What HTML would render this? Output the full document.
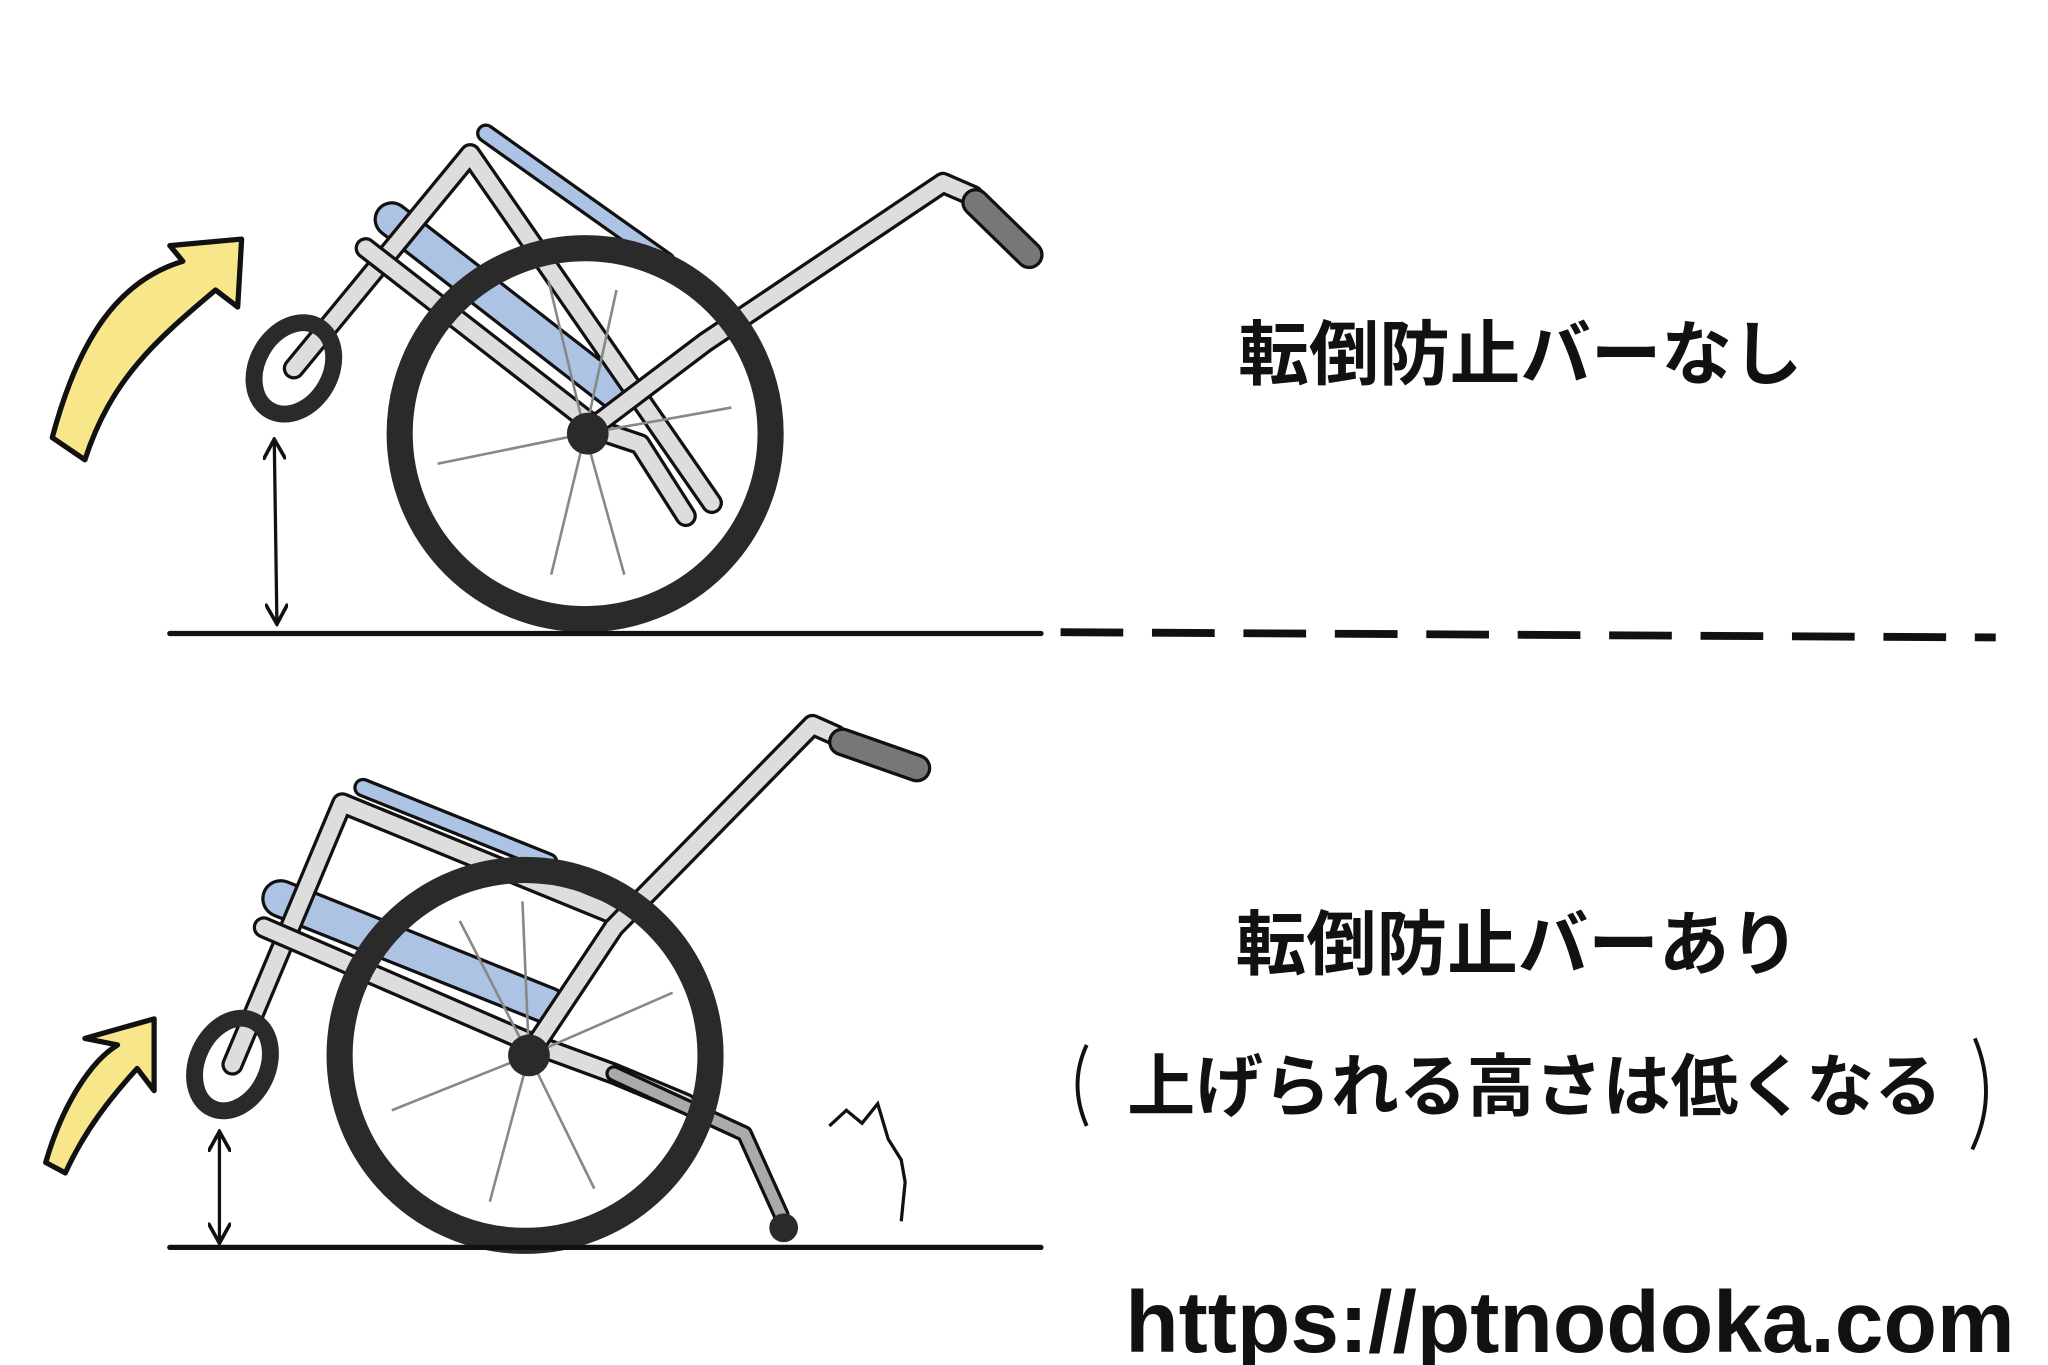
<!DOCTYPE html>
<html><head><meta charset="utf-8"><style>
html,body{margin:0;padding:0;background:#fff;}
svg{display:block}
text{font-family:"Liberation Sans","Noto Sans CJK JP",sans-serif;font-weight:bold;fill:#111}
</style></head><body>
<svg width="2048" height="1365" viewBox="0 0 1568 1045" xmlns="http://www.w3.org/2000/svg">
<defs>
<marker id="ah" viewBox="0 0 10 10" refX="8" refY="5" markerWidth="7" markerHeight="7" orient="auto-start-reverse"><path d="M0,0 L9,5 L0,10" fill="none" stroke="#111" stroke-width="1.6"/></marker>
</defs>
<!-- ===== TOP ===== -->
<line x1="372" y1="102" x2="510" y2="200" stroke="#111" stroke-width="15" stroke-linecap="round"/>
<line x1="372" y1="102" x2="510" y2="200" stroke="#adc3e3" stroke-width="10" stroke-linecap="round"/>
<line x1="300" y1="168" x2="470" y2="300" stroke="#111" stroke-width="28" stroke-linecap="round"/>
<line x1="300" y1="168" x2="470" y2="300" stroke="#adc3e3" stroke-width="23" stroke-linecap="round"/>
<g stroke-linecap="round" stroke-linejoin="round" fill="none">
<polyline points="225,282 360,118 545,385" stroke="#111" stroke-width="17"/>
<polyline points="225,282 360,118 545,385" stroke="#ddd" stroke-width="12"/>
<polyline points="280,190 460,330 490,340 525,395" stroke="#111" stroke-width="17"/>
<polyline points="280,190 460,330 490,340 525,395" stroke="#ddd" stroke-width="12"/>
<polyline points="450,330 540,262 722,140 745,150" stroke="#111" stroke-width="17"/>
<polyline points="450,330 540,262 722,140 745,150" stroke="#ddd" stroke-width="12"/>
<line x1="747" y1="155" x2="788" y2="195" stroke="#111" stroke-width="22"/>
<line x1="747" y1="155" x2="788" y2="195" stroke="#777" stroke-width="17"/>
</g>
<ellipse cx="225" cy="282" rx="28" ry="37" transform="rotate(30 225 282)" fill="none" stroke="#2a2a2a" stroke-width="13"/>
<circle cx="448" cy="332" r="142" fill="none" stroke="#2a2a2a" stroke-width="20"/>
<g stroke="#888" stroke-width="2">
<line x1="448" y1="332" x2="420" y2="215"/><line x1="448" y1="332" x2="472" y2="222"/>
<line x1="448" y1="332" x2="560" y2="312"/><line x1="448" y1="332" x2="335" y2="355"/>
<line x1="448" y1="332" x2="422" y2="440"/><line x1="448" y1="332" x2="478" y2="440"/>
</g>
<circle cx="450" cy="332" r="16" fill="#2a2a2a"/>
<path d="M40,335 C60,260 90,215 140,200 L130,188 L185,183 L182,235 L165,222 C120,260 85,290 65,352 Z" fill="#f7e68a" stroke="#111" stroke-width="4" stroke-linejoin="round"/>
<line x1="210" y1="338" x2="212" y2="476" stroke="#111" stroke-width="2.5" marker-start="url(#ah)" marker-end="url(#ah)"/>
<line x1="130" y1="485" x2="797" y2="485" stroke="#111" stroke-width="4" stroke-linecap="round"/>
<line x1="812" y1="484" x2="1528" y2="488" stroke="#111" stroke-width="6" stroke-dasharray="48,22"/>
<text x="1164" y="290" font-size="54" text-anchor="middle">転倒防止バーなし</text>

<!-- ===== BOTTOM ===== -->
<line x1="278" y1="603" x2="420" y2="660" stroke="#111" stroke-width="15" stroke-linecap="round"/>
<line x1="278" y1="603" x2="420" y2="660" stroke="#adc3e3" stroke-width="10" stroke-linecap="round"/>
<line x1="215" y1="688" x2="420" y2="770" stroke="#111" stroke-width="30" stroke-linecap="round"/>
<line x1="215" y1="688" x2="420" y2="770" stroke="#adc3e3" stroke-width="25" stroke-linecap="round"/>
<g stroke-linecap="round" stroke-linejoin="round" fill="none">
<polyline points="178,815 262,615 470,700" stroke="#111" stroke-width="17"/>
<polyline points="178,815 262,615 470,700" stroke="#ddd" stroke-width="12"/>
<polyline points="202,710 410,800 470,822 525,845" stroke="#111" stroke-width="17"/>
<polyline points="202,710 410,800 470,822 525,845" stroke="#ddd" stroke-width="12"/>
<polyline points="410,800 470,710 622,555 640,563" stroke="#111" stroke-width="17"/>
<polyline points="410,800 470,710 622,555 640,563" stroke="#ddd" stroke-width="12"/>
<polyline points="470,822 570,868 598,930" stroke="#111" stroke-width="13"/>
<polyline points="470,822 570,868 598,930" stroke="#aaa" stroke-width="8"/>
<line x1="645" y1="568" x2="702" y2="588" stroke="#111" stroke-width="22"/>
<line x1="645" y1="568" x2="702" y2="588" stroke="#777" stroke-width="17"/>
</g>
<circle cx="600" cy="940" r="11" fill="#2a2a2a"/>
<ellipse cx="178" cy="815" rx="27" ry="37" transform="rotate(25 178 815)" fill="none" stroke="#2a2a2a" stroke-width="13"/>
<circle cx="402" cy="808" r="142" fill="none" stroke="#2a2a2a" stroke-width="20"/>
<g stroke="#888" stroke-width="2">
<line x1="405" y1="808" x2="352" y2="705"/><line x1="405" y1="808" x2="400" y2="690"/>
<line x1="405" y1="808" x2="515" y2="760"/><line x1="405" y1="808" x2="300" y2="850"/>
<line x1="405" y1="808" x2="375" y2="920"/><line x1="405" y1="808" x2="455" y2="910"/>
</g>
<circle cx="405" cy="808" r="16" fill="#2a2a2a"/>
<path d="M35,890 C48,845 70,812 90,800 L65,795 L118,780 L118,835 L105,818 C85,840 65,865 50,898 Z" fill="#f7e68a" stroke="#111" stroke-width="4" stroke-linejoin="round"/>
<line x1="168" y1="868" x2="168" y2="950" stroke="#111" stroke-width="2.5" marker-start="url(#ah)" marker-end="url(#ah)"/>
<path d="M635,862 L648,850 L660,860 L672,845 L680,872 L690,888 L693,905 L690,935" fill="none" stroke="#111" stroke-width="2.5"/>
<line x1="130" y1="955" x2="797" y2="955" stroke="#111" stroke-width="4" stroke-linecap="round"/>
<text x="1162" y="742" font-size="54" text-anchor="middle">転倒防止バーあり</text>
<text x="1175" y="850" font-size="52" text-anchor="middle">上げられる高さは低くなる</text>
<path d="M832,800 Q818,830 832,862" fill="none" stroke="#111" stroke-width="3"/>
<path d="M1512,795 Q1530,838 1510,880" fill="none" stroke="#111" stroke-width="3"/>
<text x="1202" y="1035" font-size="67" text-anchor="middle">https://ptnodoka.com</text>
</svg>
</body></html>
